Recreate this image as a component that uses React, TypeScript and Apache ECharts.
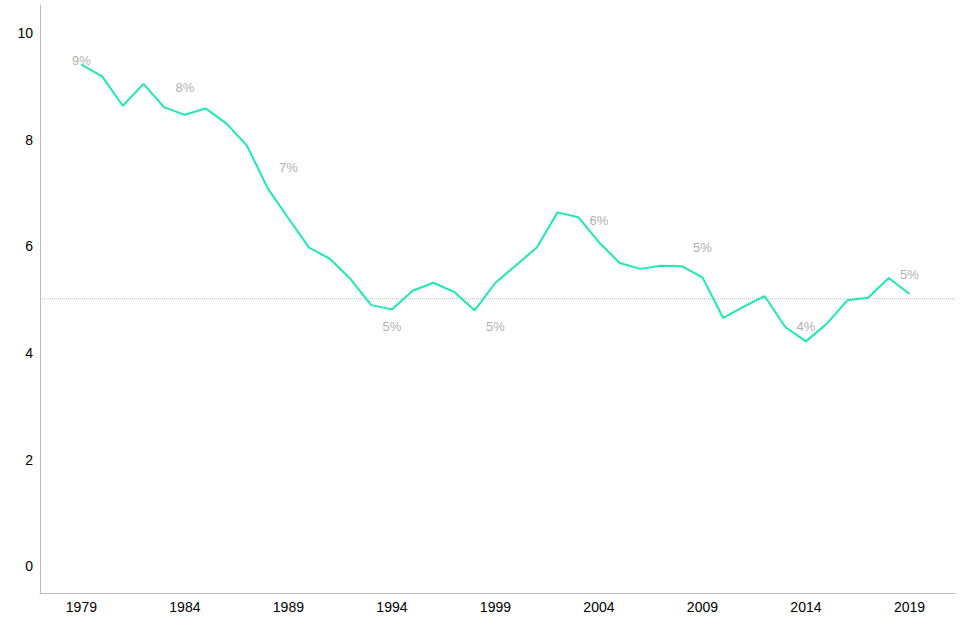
import React, { useEffect, useRef } from "react";
import * as echarts from "echarts";

const years = [
  1979, 1980, 1981, 1982, 1983, 1984, 1985, 1986, 1987, 1988, 1989, 1990, 1991, 1992,
  1993, 1994, 1995, 1996, 1997, 1998, 1999, 2000, 2001, 2002, 2003, 2004, 2005, 2006,
  2007, 2008, 2009, 2010, 2011, 2012, 2013, 2014, 2015, 2016, 2017, 2018, 2019,
];
const values = [
  9.41, 9.19, 8.64, 9.05, 8.61, 8.47, 8.59, 8.31, 7.89, 7.09, 6.53, 5.98, 5.77, 5.39,
  4.9, 4.82, 5.17, 5.32, 5.15, 4.8, 5.32, 5.65, 5.98, 6.64, 6.55, 6.08, 5.69, 5.58,
  5.64, 5.63, 5.42, 4.66, 4.87, 5.07, 4.49, 4.22, 4.55, 4.99, 5.04, 5.41, 5.11,
];
const referenceValue = 5.02;
const labelYears = [1979, 1984, 1989, 1994, 1999, 2004, 2009, 2014, 2019];
const labelTexts = ["9%", "8%", "7%", "5%", "5%", "6%", "5%", "4%", "5%"];
const labelAnchors = [9.49, 8.99, 7.49, 4.49, 4.49, 6.49, 5.98, 4.49, 5.47];
const xTickLabels = [1979, 1984, 1989, 1994, 1999, 2004, 2009, 2014, 2019];
const yTickLabels = [0, 2, 4, 6, 8, 10];
const xMin = 1977;
const xMax = 2021.2;

export default function App() {
  const ref = useRef<HTMLDivElement>(null);
  useEffect(() => {
    if (!ref.current) return;
    const chart = echarts.init(ref.current, null, { renderer: "svg" });
    const font = "'Liberation Sans', Arial, sans-serif";
    chart.setOption({
      animation: false,
      backgroundColor: "#ffffff",
      grid: { left: 40, right: 5, top: 5, bottom: 47, containLabel: false },
      xAxis: {
        type: "value",
        min: xMin,
        max: xMax,
        axisLine: { show: true, onZero: false, lineStyle: { color: "#bbbbbb", width: 1 } },
        axisTick: { show: false },
        splitLine: { show: false },
        axisLabel: {
          customValues: xTickLabels,
          formatter: (v: number) => String(v),
          color: "#000000",
          fontSize: 14,
          fontFamily: font,
          margin: 7,
        },
      },
      yAxis: {
        type: "value",
        min: -0.5,
        max: 10.53,
        axisLine: { show: true, onZero: false, lineStyle: { color: "#bbbbbb", width: 1 } },
        axisTick: { show: false },
        splitLine: { show: false },
        axisLabel: {
          customValues: yTickLabels,
          formatter: (v: number) => String(v),
          color: "#000000",
          fontSize: 14,
          fontFamily: font,
          margin: 7,
        },
      },
      series: [
        {
          type: "line",
          data: [
            [xMin, referenceValue],
            [xMax, referenceValue],
          ],
          symbol: "none",
          silent: true,
          z: 1,
          lineStyle: { color: "#bbbbbb", type: "dotted", width: 1 },
        },
        {
          type: "line",
          data: years.map((y, i) => [y, values[i]]),
          showSymbol: false,
          symbol: "none",
          lineStyle: { color: "#1de9b6", width: 2 },
          itemStyle: { color: "#1de9b6" },
          silent: true,
          z: 3,
        },
        {
          type: "scatter",
          data: labelYears.map((y, i) => [y, labelAnchors[i], labelTexts[i]]),
          symbolSize: 1,
          itemStyle: { color: "rgba(0,0,0,0)" },
          silent: true,
          z: 5,
          label: {
            show: true,
            position: "inside",
            formatter: (p: any) => p.data[2],
            color: "#999999",
            fontSize: 13,
            fontFamily: font,
          },
        },
      ],
    });
    return () => chart.dispose();
  }, []);
  return (
    <div
      ref={ref}
      style={{ position: "fixed", left: 0, top: 0, width: 960, height: 640 }}
    />
  );
}
